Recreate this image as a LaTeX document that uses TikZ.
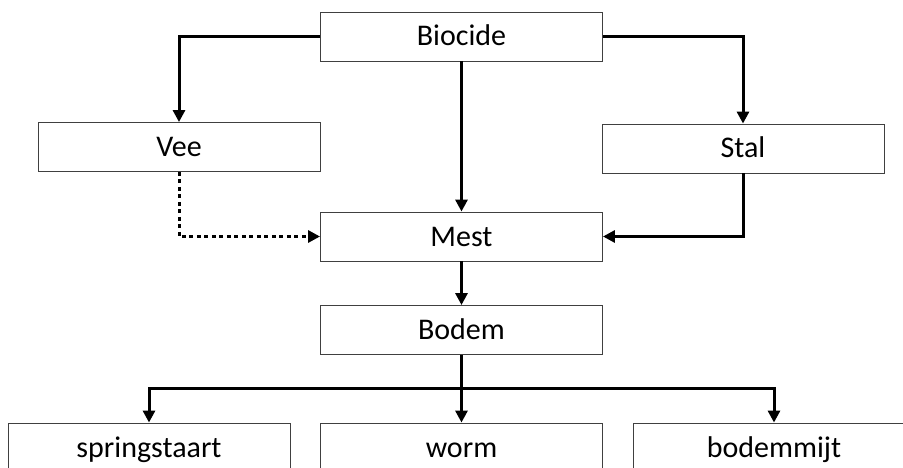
\documentclass[tikz,border=0pt]{standalone}
\usepackage{fontspec}
\setmainfont{Carlito}
\usetikzlibrary{arrows.meta}
\begin{document}
\begin{tikzpicture}[x=1pt,y=-1pt,
  box/.style={draw=black!75,line width=0.9pt,fill=white,minimum width=282pt,minimum height=49pt,inner sep=0pt,text height=25pt,text depth=6pt,font=\fontsize{30}{35}\selectfont},
  link/.style={line width=3pt,-{Triangle[length=12pt,width=12pt]}},
  dotlink/.style={link,dash pattern=on 4pt off 3.5pt}]
\useasboundingbox (0,0) rectangle (903,468);
\clip (0,0) rectangle (903,468);
\node[box] (bio) at (461.5,36.5) {Biocide};
\node[box] (vee) at (179,147) {Vee};
\node[box] (stal) at (743,148.5) {Stal};
\node[box] (mest) at (461.5,236.5) {Mest};
\node[box] (bodem) at (461.5,330) {Bodem};
\node[box] (spring) at (149,447.5) {springstaart};
\node[box] (worm) at (461.5,447.5) {worm};
\node[box] (mijt) at (774,447.5) {bodemmijt};
\coordinate (split) at (461.5,388);
\draw[link] (bio.west) -| (vee.north);
\draw[link] (bio.east) -| (stal.north);
\draw[link] (bio.south) -- (mest.north);
\draw[link] (stal.south) |- (mest.east);
\draw[dotlink] (vee.south) |- (mest.west);
\draw[link] (mest.south) -- (bodem.north);
\draw[line width=3pt] (bodem.south) -- (split);
\draw[link] (split) -| (spring.north);
\draw[link] (split) -| (mijt.north);
\draw[link] (split) -- (worm.north);
\end{tikzpicture}
\end{document}
